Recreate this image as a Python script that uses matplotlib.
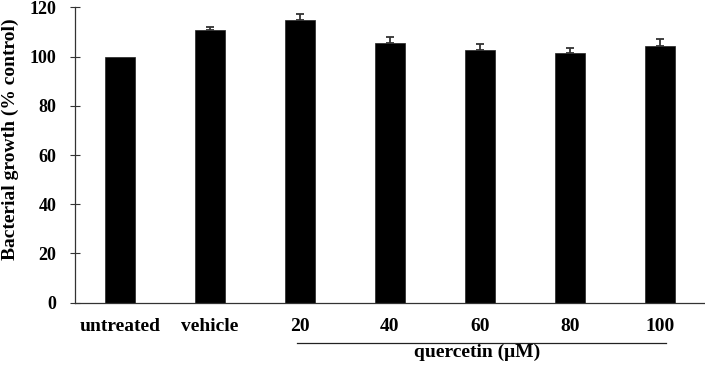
import matplotlib
matplotlib.use('Agg')
import matplotlib.pyplot as plt
import matplotlib.transforms as mtransforms

# data
categories = ['untreated', 'vehicle', '20', '40', '60', '80', '100']
growth = [100.0, 110.9, 114.7, 105.6, 102.6, 101.4, 104.2]
growth_err = [0.0, 1.2, 2.5, 2.3, 2.5, 2.1, 2.8]
yticks = [0, 20, 40, 60, 80, 100, 120]
group_label = 'quercetin (\u03bcM)'

plt.rcParams['font.family'] = ['Liberation Serif', 'DejaVu Serif']
plt.rcParams['font.weight'] = 'bold'

fig = plt.figure(figsize=(7.05, 3.73), dpi=100)
ax = fig.add_axes([75 / 705, 1 - 302.7 / 373, 1 - 75 / 705, (302.7 - 7.3) / 373])

x = list(range(len(categories)))
ax.bar(x, growth, width=0.325, color='black', edgecolor='#222222', linewidth=0.5,
       zorder=2)
ax.errorbar(x[1:], growth[1:], yerr=[[0] * (len(x) - 1), growth_err[1:]],
            fmt='none', ecolor='#333333', elinewidth=1.3, capsize=3.2,
            capthick=1.3, zorder=3)

ax.set_xlim(-0.5, 6.5)
ax.set_ylim(0, 120)
ax.set_yticks(yticks)
ax.set_yticklabels([str(t) for t in yticks], fontsize=13, fontweight='bold')
ax.set_xticks(x)
ax.set_xticklabels(categories, fontsize=14, fontweight='bold')
ax.tick_params(axis='y', direction='inout', length=6.7, width=0.8,
               color='#333333', pad=10)
ax.tick_params(axis='x', length=0, pad=11)

for side in ['top', 'right']:
    ax.spines[side].set_visible(False)
ax.spines['left'].set_color('#333333')
ax.spines['bottom'].set_color('#333333')
ax.spines['left'].set_linewidth(0.9)
ax.spines['bottom'].set_linewidth(0.9)

# group line under the quercetin doses
trans = mtransforms.blended_transform_factory(ax.transData, fig.transFigure)
ax.plot([1.97, 6.07], [1 - 342.7 / 373] * 2, color='#222222', linewidth=0.9,
        transform=trans, clip_on=False)
ax.text(3.97, 1 - 352 / 373, group_label, transform=trans, ha='center',
        va='center', fontsize=14, fontweight='bold')

fig.text(10 / 705, 1 - 139 / 373, 'Bacterial growth (% control)', rotation=90,
         ha='center', va='center', fontsize=14, fontweight='bold')

fig.savefig('out.png', dpi=100)
